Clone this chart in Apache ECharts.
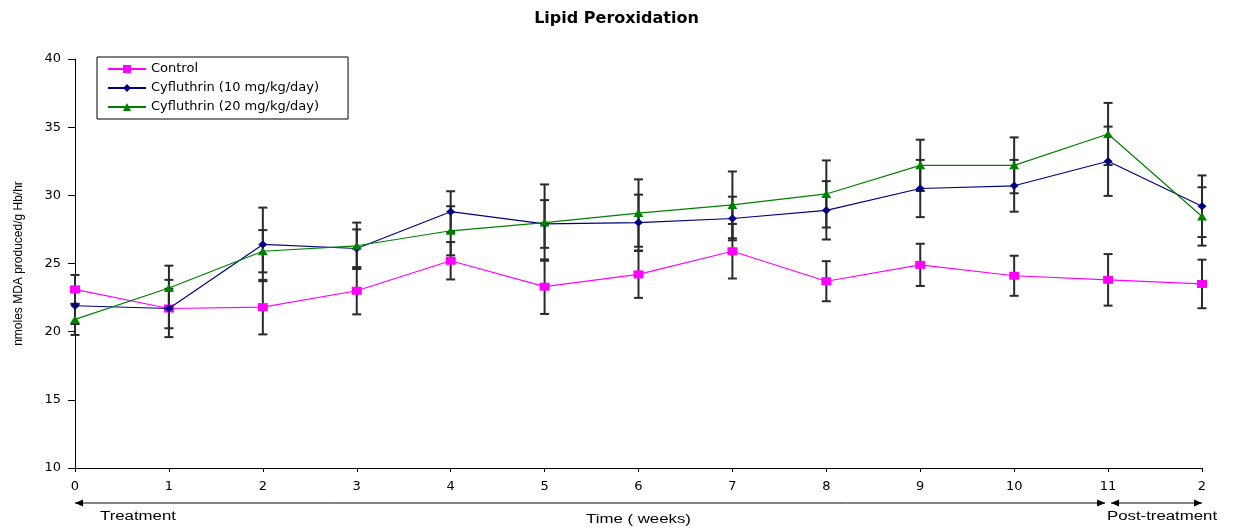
<!DOCTYPE html>
<html><head><meta charset="utf-8">
<script src="https://cdn.jsdelivr.net/npm/echarts@6/dist/echarts.min.js"></script>
<style>html,body{margin:0;padding:0;background:#fff}#c{width:1233px;height:531px}</style>
</head><body><div id="c"></div>
<script>
const chartTitle = 'Lipid Peroxidation';
const yAxisTitle = 'nmoles MDA produced/g Hb/hr';
const xAxisTitle = 'Time ( weeks)';
const weekLabels = ['0','1','2','3','4','5','6','7','8','9','10','11','2'];
const seriesNames = ['Control','Cyfluthrin (10 mg/kg/day)','Cyfluthrin (20 mg/kg/day)'];
const controlMean = [23.1,21.7,21.8,23.0,25.2,23.3,24.2,25.9,23.7,24.9,24.1,23.8,23.5];
const controlErr  = [1.06,2.10,2.00,1.73,1.37,2.00,1.72,2.00,1.47,1.55,1.47,1.89,1.78];
const cyf10Mean   = [21.9,21.7,26.4,26.1,28.8,27.9,28.0,28.3,28.9,30.5,30.7,32.5,29.2];
const cyf10Err    = [1.34,1.45,2.70,1.40,1.50,1.75,2.05,1.60,2.14,2.10,1.90,2.54,2.26];
const cyf20Mean   = [20.9,23.2,25.9,26.3,27.4,28.0,28.7,29.3,30.1,32.2,32.2,34.5,28.45];
const cyf20Err    = [1.14,1.64,1.55,1.70,1.80,2.80,2.47,2.45,2.46,1.88,2.05,2.28,2.14];
const phaseNames = ['Treatment','Post-treatment'];
const phaseSpans = [[0,11],[11,12]];

const means = [controlMean, cyf10Mean, cyf20Mean];
const errs = [controlErr, cyf10Err, cyf20Err];
const colors = ['#FF00FF','#000080','#008000'];
const symbols = ['rect','diamond','triangle'];
const symbolSizes = [[10,8],[9,8],[10,8]];

function renderErr(params, api){
  const x = api.value(0), lo = api.value(1), hi = api.value(2);
  const p1 = api.coord([x, hi]), p2 = api.coord([x, lo]);
  const hw = 4.5;
  const style = {stroke:'#2a2a2a', lineWidth:2};
  return {type:'group', children:[
    {type:'line', shape:{x1:p1[0],y1:p1[1],x2:p2[0],y2:p2[1]}, style:style},
    {type:'line', shape:{x1:p1[0]-hw,y1:p1[1],x2:p1[0]+hw,y2:p1[1]}, style:style},
    {type:'line', shape:{x1:p2[0]-hw,y1:p2[1],x2:p2[0]+hw,y2:p2[1]}, style:style}
  ]};
}

const series = [];
means.forEach((m, s) => {
  series.push({
    name: seriesNames[s] + ' SD', type:'custom', renderItem: renderErr, z: 2,
    encode:{x:0, y:[1,2]}, silent:true,
    data: m.map((v,i)=>[i, v-errs[s][i], v+errs[s][i]])
  });
});
means.forEach((m, s) => {
  series.push({
    name: seriesNames[s], type:'line', z: 3 + s,
    symbol: symbols[s], symbolSize: symbolSizes[s],
    itemStyle:{color:colors[s]}, lineStyle:{color:colors[s], width:1.2},
    data: m.map((v,i)=>[i, v])
  });
});

const chart = echarts.init(document.getElementById('c'), null, {renderer:'canvas'});
chart.setOption({
  animation:false,
  backgroundColor:'#fff',
  title:{text:chartTitle, left:'center', top:6,
    textStyle:{fontFamily:'DejaVu Sans', fontWeight:'bold', fontSize:16, color:'#000'}},
  legend:{data:seriesNames, orient:'vertical', left:97, top:57,
    padding:[5,29,5,10], itemGap:5, itemWidth:38, itemHeight:10,
    borderColor:'#000', borderWidth:1, borderRadius:0,
    textStyle:{fontFamily:'DejaVu Sans', fontSize:13, color:'#000', lineHeight:14}},
  grid:{left:75, right:31, top:59, bottom:63},
  xAxis:{type:'value', min:0, max:12, interval:1,
    axisLine:{lineStyle:{color:'#000'}},
    axisTick:{length:4, lineStyle:{color:'#000'}},
    splitLine:{show:false},
    axisLabel:{formatter:v=>weekLabels[v], margin:12, color:'#000', fontFamily:'DejaVu Sans', fontSize:13}},
  yAxis:{type:'value', min:10, max:40, interval:5,
    name:yAxisTitle, nameLocation:'middle', nameRotate:90, nameGap:50,
    nameTextStyle:{fontFamily:'Liberation Sans', fontSize:12, color:'#000'},
    axisLine:{show:true, lineStyle:{color:'#000'}},
    axisTick:{show:true, length:7, lineStyle:{color:'#000'}},
    splitLine:{show:false},
    axisLabel:{margin:14, color:'#000', fontFamily:'DejaVu Sans', fontSize:13}},
  series: series
});

// annotations under the x axis, positioned from the axis scale
const gi = {gridIndex:0};
const base = chart.convertToPixel(gi, [0, 10]);
const ay = base[1] + 35;
const graphics = [];
const stroke = {stroke:'#000', lineWidth:1};
function arrowHead(x, dir){
  return {type:'polygon', shape:{points:[[x, ay],[x - dir*8, ay-3.5],[x - dir*8, ay+3.5]]}, style:{fill:'#000'}};
}
phaseSpans.forEach((sp, k) => {
  const xa = chart.convertToPixel(gi, [sp[0], 10])[0] + (k ? 3 : 0);
  const xb = chart.convertToPixel(gi, [sp[1], 10])[0] - (k ? 0 : 3);
  graphics.push({type:'line', shape:{x1:xa, y1:ay, x2:xb, y2:ay}, style:stroke});
  graphics.push(arrowHead(xa, -1));
  graphics.push(arrowHead(xb, 1));
});
const x0 = chart.convertToPixel(gi, [0, 10])[0];
const x11 = chart.convertToPixel(gi, [11, 10])[0];
const x12 = chart.convertToPixel(gi, [12, 10])[0];
graphics.push({type:'text', x:x0+25, y:ay+14, scaleX:1.4,
  style:{text:phaseNames[0], font:'12px "Liberation Sans"', fill:'#000', textAlign:'left', textVerticalAlign:'middle'}});
graphics.push({type:'text', x:(x11+x12)/2+7, y:ay+14, scaleX:1.4,
  style:{text:phaseNames[1], font:'12px "Liberation Sans"', fill:'#000', textAlign:'center', textVerticalAlign:'middle'}});
graphics.push({type:'text', x:(x0+x12)/2, y:ay+17, scaleX:1.4,
  style:{text:xAxisTitle, font:'12px "Liberation Sans"', fill:'#000', textAlign:'center', textVerticalAlign:'middle'}});
chart.setOption({graphic:graphics});
</script></body></html>
